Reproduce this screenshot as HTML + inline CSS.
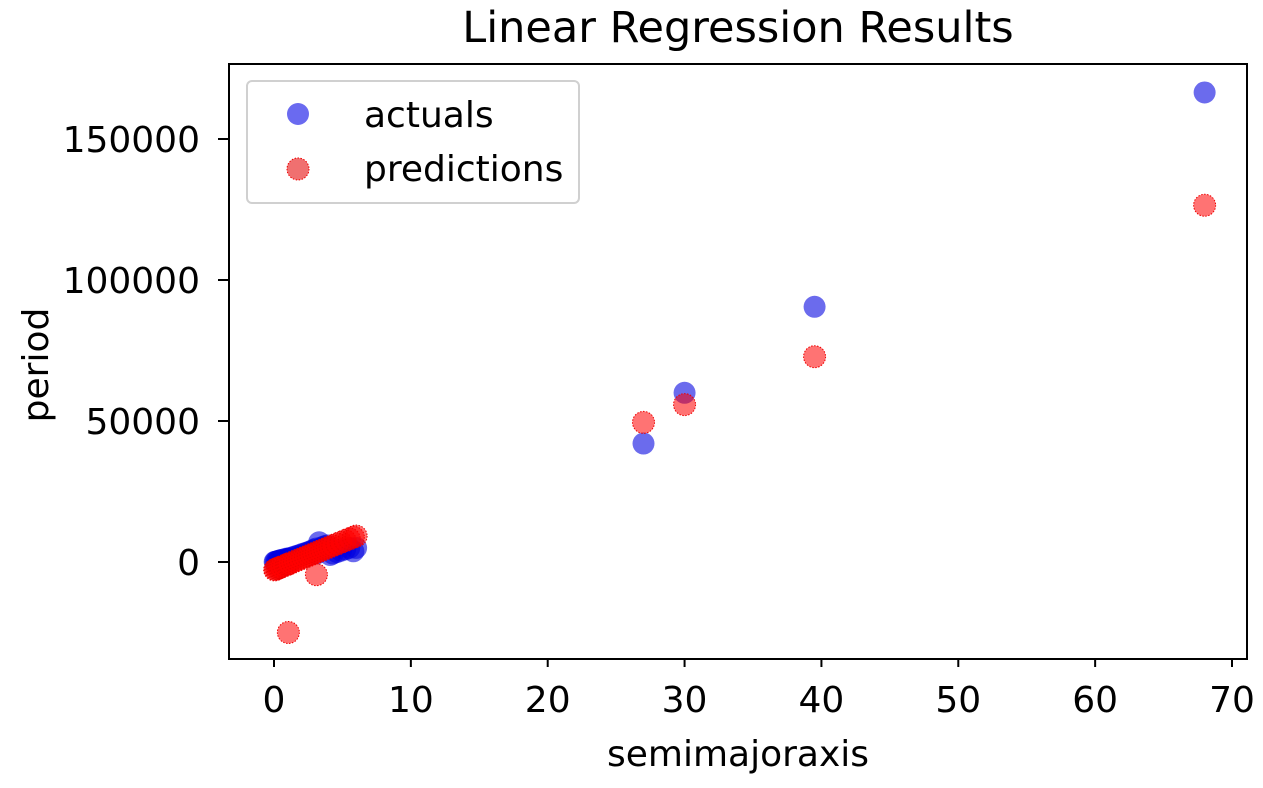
<!DOCTYPE html>
<html><head><meta charset="utf-8"><style>
body{margin:0;background:#fff;}
svg text{font-family:"DejaVu Sans","Liberation Sans",sans-serif;fill:#000;}
</style></head><body>
<svg id="chart" width="1263" height="783" xmlns="http://www.w3.org/2000/svg">
<text x="738" y="42" font-size="43" text-anchor="middle">Linear Regression Results</text>
<g id="marks"></g>
<rect x="229" y="64" width="1018" height="595" fill="none" stroke="#000" stroke-width="2"/>
<g id="axes"></g>
<text x="738" y="766" font-size="36" text-anchor="middle">semimajoraxis</text>
<text transform="translate(48,365) rotate(-90)" font-size="36" text-anchor="middle">period</text>
<g>
<rect x="247" y="81" width="332" height="122" rx="5" fill="#fff" stroke="#ccc" stroke-width="2" opacity="0.9"/>
<circle cx="298" cy="114" r="11" fill="#6a6af0"/>
<text x="364" y="127" font-size="36">actuals</text>
<circle cx="298" cy="169" r="11" fill="#f07070" stroke="#e00" stroke-width="1" stroke-dasharray="1.5,1.5"/>
<text x="364" y="181" font-size="36">predictions</text>
</g>
</svg>
<script>
const semimajor = [0.05,0.1,0.2,0.3,0.4,0.5,0.7,0.9,1.0,1.1,1.3,1.5,1.7,1.9,2.1,2.3,2.5,2.7,2.9,3.1,3.3,3.5,3.7,3.9,4.1,4.3,4.6,4.9,5.2,5.5,5.8,6.0,1.05,3.1,27,30,39.5,68];
const actuals = [50,100,200,400,500,700,900,1200,1100,1300,1600,1900,2200,2500,2900,3200,3500,3900,4300,4800,7000,5200,5600,5900,2500,3000,3500,4000,4500,5000,3800,5000,1200,3000,42000,60000,90500,166500];
const predictions = [-2800,-2600,-2400,-2200,-2000,-1800,-1400,-1000,-800,-600,-200,200,600,1000,1400,1800,2200,2600,3000,3400,3800,4200,4600,5000,5400,5800,6400,7000,7600,8200,8800,9200,-25000,-4500,49500,55800,72800,126500];
const xTicks = [0,10,20,30,40,50,60,70];
const yTicks = [0,50000,100000,150000];
const yTickLabels = ["0","50000","100000","150000"];
const X = v => 274 + v*(1232-274)/70;
const Y = v => 562 - v*(562-139)/150000;
const NS="http://www.w3.org/2000/svg";
const marks=document.getElementById('marks'), axes=document.getElementById('axes');
function mk(t,a,p){const e=document.createElementNS(NS,t);for(const k in a)e.setAttribute(k,a[k]);p.appendChild(e);return e;}
semimajor.forEach((a,i)=>{
 const c=mk('circle',{cx:X(a),cy:Y(actuals[i]),r:11,fill:'#0000e0','fill-opacity':0.58},marks);
 
 
});
semimajor.forEach((a,i)=>{
 const c=mk('circle',{cx:X(a),cy:Y(predictions[i]),r:11,fill:'#ff0000','fill-opacity':0.55,stroke:'#e00','stroke-width':1,'stroke-dasharray':'1.5,1.5'},marks);
 
 
});
xTicks.forEach(t=>{
 const l=mk('line',{x1:X(t),x2:X(t),y1:659,y2:667,stroke:'#000','stroke-width':2},axes);
 
 
 const tx=mk('text',{x:X(t),y:712,'font-size':36,'text-anchor':'middle'},axes);tx.textContent=t;
 
 
});
yTicks.forEach((t,i)=>{
 const l=mk('line',{x1:218,x2:229,y1:Y(t),y2:Y(t),stroke:'#000','stroke-width':2},axes);
 
 
 const tx=mk('text',{x:200,y:Y(t)+13,'font-size':36,'text-anchor':'end'},axes);tx.textContent=yTickLabels[i];
 
 
});
</script>
</body></html>
